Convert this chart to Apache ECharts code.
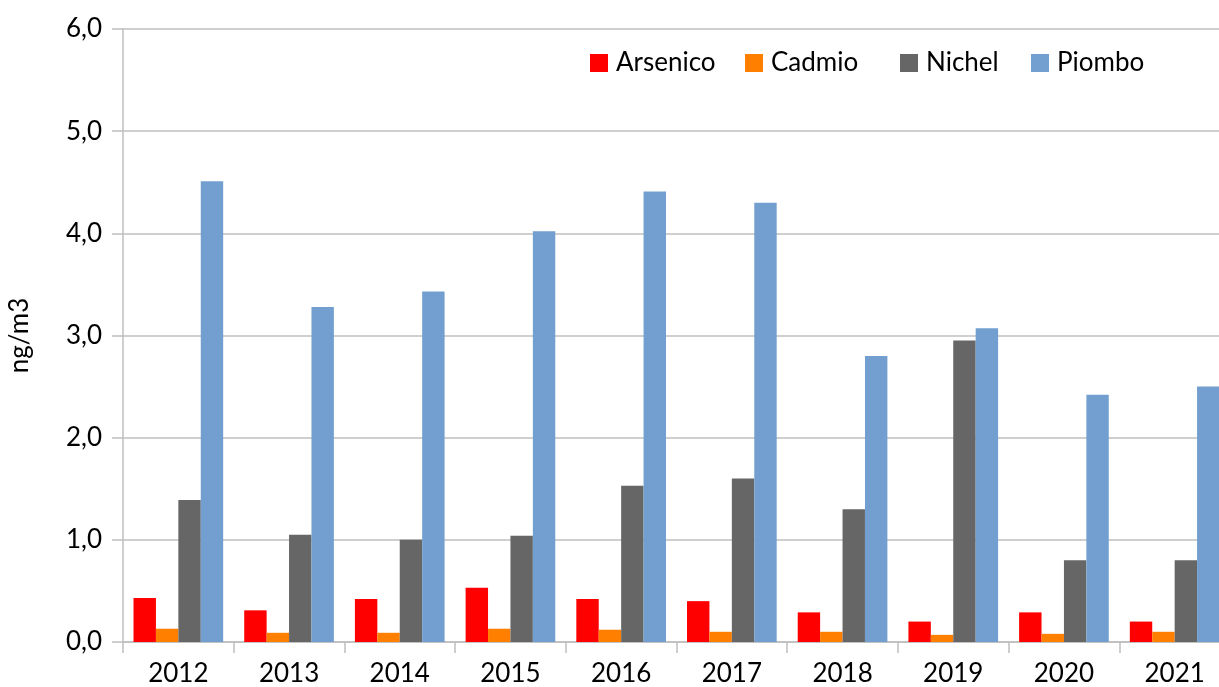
<!DOCTYPE html>
<html>
<head>
<meta charset="utf-8">
<script src="https://cdn.jsdelivr.net/npm/echarts@6/dist/echarts.min.js"></script>
<style>
  html, body { margin: 0; padding: 0; background: #fff; }
  #chart { width: 1219px; height: 687px; }
</style>
</head>
<body>
<div id="chart"></div>
<script>
// Annual mean concentrations of metals (ng/m3)
const years = ['2012', '2013', '2014', '2015', '2016', '2017', '2018', '2019', '2020', '2021'];
const arsenico = [0.43, 0.31, 0.42, 0.53, 0.42, 0.40, 0.29, 0.20, 0.29, 0.20];
const cadmio   = [0.13, 0.09, 0.09, 0.13, 0.12, 0.10, 0.10, 0.07, 0.08, 0.10];
const nichel   = [1.39, 1.05, 1.00, 1.04, 1.53, 1.60, 1.30, 2.95, 0.80, 0.80];
const piombo   = [4.51, 3.28, 3.43, 4.02, 4.41, 4.30, 2.80, 3.07, 2.42, 2.50];
const yTicks   = [0, 1, 2, 3, 4, 5, 6];

const FONT = 'Lato';
const FS = 26;
const names = ['Arsenico', 'Cadmio', 'Nichel', 'Piombo'];
const colors = ['#FF0000', '#FF8000', '#666666', '#729FCF'];
const values = [arsenico, cadmio, nichel, piombo];
const legendLeft = [590, 745, 900, 1031];

const chart = echarts.init(document.getElementById('chart'), null, { renderer: 'canvas' });

chart.setOption({
  animation: false,
  backgroundColor: '#ffffff',
  textStyle: { fontFamily: FONT },
  legend: names.map((n, i) => ({
    data: [n],
    left: legendLeft[i],
    top: 50,
    padding: 0,
    itemWidth: 18,
    itemHeight: 18,
    icon: 'rect',
    itemGap: 0,
    textStyle: { fontFamily: FONT, fontSize: FS, color: '#000', padding: [0, 0, 0, 3] }
  })),
  // plot area runs past the right edge of the canvas, so the last bar is cut
  grid: { left: 123, top: 29, width: 1107, height: 613, containLabel: false, outerBoundsMode: 'none' },
  xAxis: {
    type: 'category',
    data: years,
    boundaryGap: true,
    axisLine: { show: true, lineStyle: { color: '#BFBFBF', width: 1.5 } },
    axisTick: { show: true, alignWithLabel: false, length: 11, lineStyle: { color: '#BFBFBF', width: 1.5 } },
    axisLabel: { fontFamily: FONT, fontSize: FS, color: '#000', margin: 19 },
    splitLine: { show: false }
  },
  yAxis: {
    type: 'value',
    min: yTicks[0],
    max: yTicks[yTicks.length - 1],
    interval: 1,
    name: 'ng/m3',
    nameLocation: 'middle',
    nameRotate: 90,
    nameGap: 90,
    nameTextStyle: { fontFamily: FONT, fontSize: FS, color: '#000' },
    axisLine: { show: true, lineStyle: { color: '#BFBFBF', width: 1.5 } },
    axisTick: { show: true, length: 11, lineStyle: { color: '#BFBFBF', width: 1.5 } },
    axisLabel: {
      fontFamily: FONT, fontSize: FS, color: '#000', margin: 21,
      formatter: v => v.toFixed(1).replace('.', ',')
    },
    splitLine: { show: true, lineStyle: { color: '#BFBFBF', width: 1.5 } }
  },
  series: names.map((n, i) => ({
    name: n,
    type: 'bar',
    data: values[i],
    barGap: '0%',
    barCategoryGap: '19%',
    itemStyle: { color: colors[i] }
  }))
});
</script>
</body>
</html>
